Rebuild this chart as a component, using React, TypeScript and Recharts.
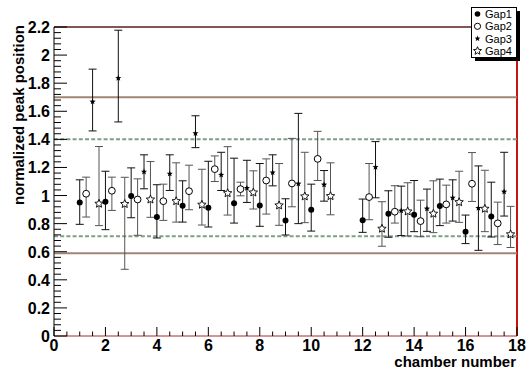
import React from "react";
import { ScatterChart, Scatter, XAxis, YAxis, ErrorBar, ReferenceLine, Legend } from "recharts";

// chamber numbers (chamber 11 has no data)
const chambers = [1, 2, 3, 4, 5, 6, 7, 8, 9, 10, 12, 13, 14, 15, 16, 17];
const gapNames = ["Gap1", "Gap2", "Gap3", "Gap4"];
const gapOffsets = [0, 0.25, 0.5, 0.75];

const gap1Values = [0.95, 0.956, 0.996, 0.847, 0.927, 0.913, 0.946, 0.93, 0.823, 0.899, 0.825, 0.871, 0.864, 0.925, 0.743, 0.85];
const gap1Low = [0.795, 0.757, 0.842, 0.698, 0.811, 0.776, 0.804, 0.781, 0.719, 0.747, 0.738, 0.703, 0.743, 0.786, 0.658, 0.705];
const gap1High = [1.112, 1.173, 1.197, 1.077, 1.105, 1.244, 1.266, 1.228, 0.977, 1.081, 0.975, 1.034, 1.107, 1.117, 0.861, 1.095];

const gap2Values = [1.013, 1.034, 0.972, 0.96, 1.031, 1.188, 1.046, 1.107, 1.086, 1.261, 0.989, 0.885, 0.818, 0.937, 1.084, 0.802];
const gap2Low = [0.847, 0.894, 0.717, 0.823, 0.899, 1.1, 0.998, 0.868, 0.92, 1.107, 0.828, 0.804, 0.707, 0.804, 0.958, 0.651];
const gap2High = [1.131, 1.131, 1.119, 1.081, 1.216, 1.282, 1.095, 1.261, 1.407, 1.457, 1.228, 1.07, 0.967, 1.074, 1.306, 0.953];

const gap3Values = [1.668, 1.836, 1.169, 1.155, 1.443, 1.147, 1.053, 1.164, 1.084, 1.077, 1.202, 0.892, 0.906, 0.984, 0.911, 1.027];
const gap3Low = [1.46, 1.524, 1.048, 1.036, 1.341, 1.036, 0.951, 1.069, 0.8, 0.96, 0.984, 0.715, 0.745, 0.818, 0.61, 0.854];
const gap3High = [1.9, 2.177, 1.29, 1.29, 1.568, 1.308, 1.251, 1.29, 1.585, 1.178, 1.384, 1.067, 1.046, 1.112, 1.211, 1.308];

const gap4Values = [0.942, 0.94, 0.972, 0.96, 0.935, 1.017, 1.022, 0.93, 0.994, 0.996, 0.764, 0.887, 0.871, 0.953, 0.906, 0.724];
const gap4Low = [0.786, 0.475, 0.845, 0.811, 0.79, 0.861, 0.904, 0.788, 0.807, 0.863, 0.639, 0.712, 0.736, 0.809, 0.743, 0.63];
const gap4High = [1.349, 1.13, 1.242, 1.233, 1.187, 1.348, 1.176, 1.228, 1.308, 1.233, 0.956, 1.091, 1.105, 1.173, 1.18, 0.923];

// limit lines
const outerLimits = [1.7, 0.59];
const innerLimits = [1.4, 0.71];

const FONT = "'Liberation Sans', Arial, Helvetica, sans-serif";

// ticks: majors every 0.2 / 2, minors in between
const yTicks: number[] = [];
for (let i = 0; i <= 55; i++) yTicks.push(Math.round(i * 4) / 100);
const xTicks: number[] = [];
for (let i = 0; i <= 36; i++) xTicks.push(i / 2);

const buildGap = (values: number[], low: number[], high: number[], offset: number) =>
  chambers.map((c, i) => ({
    x: c + offset,
    y: values[i],
    err: [values[i] - low[i], high[i] - values[i]],
  }));

const gap1 = buildGap(gap1Values, gap1Low, gap1High, gapOffsets[0]);
const gap2 = buildGap(gap2Values, gap2Low, gap2High, gapOffsets[1]);
const gap3 = buildGap(gap3Values, gap3Low, gap3High, gapOffsets[2]);
const gap4 = buildGap(gap4Values, gap4Low, gap4High, gapOffsets[3]);

const starPoints = (cx: number, cy: number, R: number, r: number) => {
  const pts: string[] = [];
  for (let k = 0; k < 10; k++) {
    const a = -Math.PI / 2 + (k * Math.PI) / 5;
    const rad = k % 2 === 0 ? R : r;
    pts.push(`${cx + rad * Math.cos(a)},${cy + rad * Math.sin(a)}`);
  }
  return pts.join(" ");
};

const FilledCircle = (p: any) => <circle cx={p.cx} cy={p.cy} r={3} fill="#000" />;
const OpenCircle = (p: any) => <circle cx={p.cx} cy={p.cy} r={3.4} fill="#fff" stroke="#000" strokeWidth={1} />;
const SmallStar = (p: any) => <polygon points={starPoints(p.cx, p.cy, 3.2, 1.4)} fill="#000" />;
const OpenStar = (p: any) => (
  <polygon points={starPoints(p.cx, p.cy, 4.4, 2)} fill="#fff" stroke="#000" strokeWidth={0.9} />
);

const YTick = (props: any) => {
  const { x, y, payload } = props;
  const v = payload.value as number;
  const major = Math.round(v * 100) % 20 === 0;
  return (
    <g>
      <line x1={x} x2={x + (major ? 13 : 7)} y1={y} y2={y} stroke="#000" strokeWidth={1} />
      {major && (
        <text x={x - 4} y={y + 6} textAnchor="end" fontFamily={FONT} fontWeight="bold" fontSize={16} fill="#000">
          {String(Math.round(v * 10) / 10)}
        </text>
      )}
    </g>
  );
};

const XTick = (props: any) => {
  const { x, y, payload } = props;
  const v = payload.value as number;
  const major = v % 2 === 0;
  return (
    <g>
      <line x1={x} x2={x} y1={y} y2={y - (major ? 9 : 4.5)} stroke="#000" strokeWidth={1} />
      {major && (
        <text x={x} y={y + 15} textAnchor="middle" fontFamily={FONT} fontWeight="bold" fontSize={16} fill="#000">
          {String(v)}
        </text>
      )}
    </g>
  );
};

const legendMarkers = [
  (cx: number, cy: number) => <circle cx={cx} cy={cy} r={2.8} fill="#000" />,
  (cx: number, cy: number) => <circle cx={cx} cy={cy} r={3.1} fill="#fff" stroke="#000" />,
  (cx: number, cy: number) => <polygon points={starPoints(cx, cy, 3, 1.3)} fill="#000" />,
  (cx: number, cy: number) => <polygon points={starPoints(cx, cy, 4.2, 1.9)} fill="#fff" stroke="#000" strokeWidth={0.9} />,
];

const renderLegend = () => (
  <svg width={52} height={56} style={{ display: "block" }}>
    <rect x={4} y={4} width={45} height={50} fill="#000" />
    <rect x={0.5} y={0.5} width={45} height={50} fill="#fff" stroke="#000" strokeWidth={1} />
    {gapNames.map((name, i) => (
      <g key={name}>
        {legendMarkers[i](6.5, 7 + i * 12.3)}
        <text x={14} y={7 + i * 12.3 + 4} fontFamily={FONT} fontSize={11} fill="#000">
          {name}
        </text>
      </g>
    ))}
  </svg>
);

export default function App() {
  return (
    <div style={{ position: "absolute", left: 0, top: 0, width: 531, height: 370, background: "#fff" }}>
      <ScatterChart width={531} height={370} margin={{ top: 27, right: 14, bottom: 0, left: 0 }}>
        <XAxis
          type="number"
          dataKey="x"
          domain={[0, 18]}
          ticks={xTicks}
          interval={0}
          tickSize={0}
          tickMargin={0}
          tickLine={false}
          height={34}
          tick={<XTick />}
          axisLine={{ stroke: "#b02828", strokeWidth: 1 }}
        />
        <YAxis
          type="number"
          dataKey="y"
          domain={[0, 2.2]}
          ticks={yTicks}
          interval={0}
          tickSize={0}
          tickMargin={0}
          tickLine={false}
          width={54}
          tick={<YTick />}
          axisLine={{ stroke: "#000", strokeWidth: 1 }}
        />
        <ReferenceLine y={2.2} stroke="#5a1c1c" strokeWidth={1.5} />
        <ReferenceLine x={18} stroke="#c41414" strokeWidth={2} />
        {outerLimits.map((v) => (
          <ReferenceLine key={`o${v}`} y={v} stroke="#a08474" strokeWidth={2} />
        ))}
        {innerLimits.map((v) => (
          <ReferenceLine key={`i${v}`} y={v} stroke="#7e9e88" strokeWidth={2} strokeDasharray="4 2.2" />
        ))}
        <Scatter name="Gap1" data={gap1} shape={FilledCircle} isAnimationActive={false}>
          <ErrorBar dataKey="err" direction="y" width={4} stroke="#111" strokeWidth={1} isAnimationActive={false} />
        </Scatter>
        <Scatter name="Gap2" data={gap2} shape={OpenCircle} isAnimationActive={false}>
          <ErrorBar dataKey="err" direction="y" width={4} stroke="#555" strokeWidth={1} isAnimationActive={false} />
        </Scatter>
        <Scatter name="Gap3" data={gap3} shape={SmallStar} isAnimationActive={false}>
          <ErrorBar dataKey="err" direction="y" width={4} stroke="#111" strokeWidth={1} isAnimationActive={false} />
        </Scatter>
        <Scatter name="Gap4" data={gap4} shape={OpenStar} isAnimationActive={false}>
          <ErrorBar dataKey="err" direction="y" width={4} stroke="#555" strokeWidth={1} isAnimationActive={false} />
        </Scatter>
        <Legend
          layout="vertical"
          align="center"
          verticalAlign="middle"
          content={renderLegend}
          wrapperStyle={{ position: "absolute", left: 471, top: 7, width: 52, height: 56 }}
        />
        <text
          transform="translate(24, 25) rotate(-90)"
          textAnchor="end"
          fontFamily={FONT}
          fontWeight="bold"
          fontSize={15}
          fill="#000"
        >
          normalized peak position
        </text>
        <text x={516} y={367} textAnchor="end" fontFamily={FONT} fontWeight="bold" fontSize={15} fill="#000">
          chamber number
        </text>
      </ScatterChart>
    </div>
  );
}
